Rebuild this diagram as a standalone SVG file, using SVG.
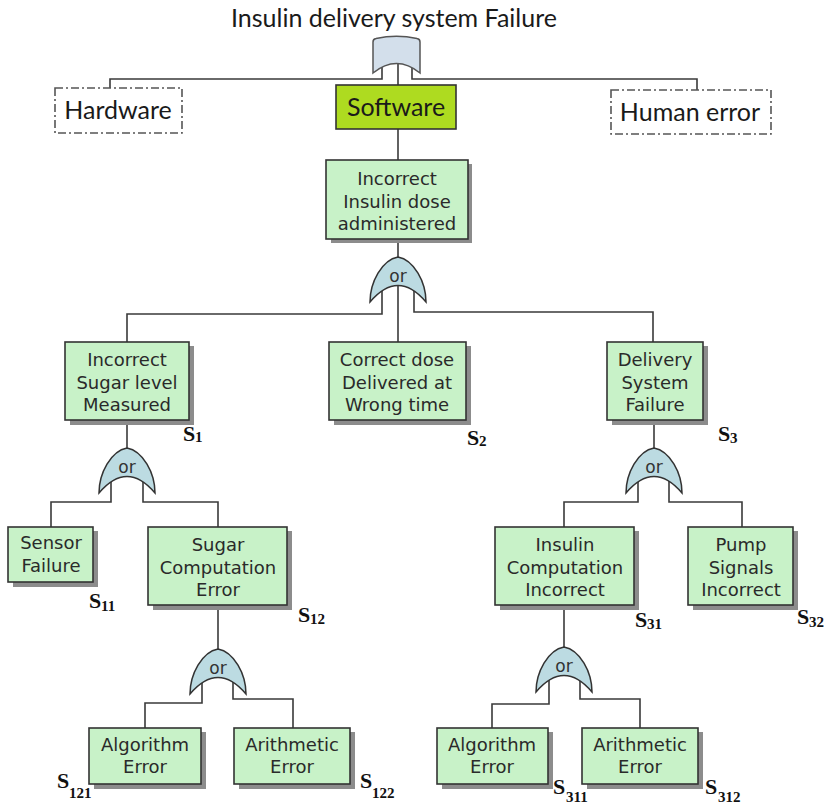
<svg xmlns="http://www.w3.org/2000/svg" width="827" height="809" viewBox="0 0 827 809">
<style>
.bg{fill:#ffffff}
.conn{fill:none;stroke:#3a3a3a;stroke-width:1.6}
.box{fill:#c8f2c8;stroke:#333333;stroke-width:1.6}
.shadow{fill:#8c8c8c}
.gate{fill:#bcdbe2;stroke:#333333;stroke-width:1.5}
.topgate{fill:#d3dfeb;stroke:#555555;stroke-width:1.5}
.dash{fill:#ffffff;stroke:#555555;stroke-width:1.6;stroke-dasharray:8 3 2 3}
.soft{fill:#aedb20;stroke:#333333;stroke-width:1.6}
.t{font-family:"DejaVu Sans",Verdana,sans-serif;font-size:18px;fill:#2a2a2a;text-anchor:middle}
.top{font-family:Lato,"Liberation Sans",sans-serif;font-size:25px;fill:#1a1a1a;text-anchor:middle}
.or{font-family:"DejaVu Sans",Verdana,sans-serif;font-size:17px;fill:#333333;text-anchor:middle}
.s{font-family:"Liberation Serif","Times New Roman",serif;font-weight:bold;font-size:22px;fill:#111111}
.sub{font-family:"Liberation Serif","Times New Roman",serif;font-weight:bold;font-size:15px;fill:#111111}
</style>
<defs>
<path id="orgate" d="M-28,45 C-28,25 -16,3 0,0 C16,3 28,25 28,45 Q0,12 -28,45 Z"/>
</defs>
<rect class="bg" x="0" y="0" width="827" height="809"/>

<text class="top" x="394" y="27">Insulin delivery system Failure</text>

<g id="connectors">
<path class="conn" d="M382,66 V79 H110 V88"/>
<path class="conn" d="M412,66 V79 H697 V90"/>
<path class="conn" d="M398,62 V85"/>
<path class="conn" d="M398,129 V160"/>
<path class="conn" d="M398,239 V258"/>
<path class="conn" d="M398,285 V342"/>
<path class="conn" d="M382,290 V314 H127 V342"/>
<path class="conn" d="M414,290 V312 H653 V342"/>
<path class="conn" d="M127,420 V449"/>
<path class="conn" d="M111,480 V502 H51 V527"/>
<path class="conn" d="M143,480 V502 H218 V527"/>
<path class="conn" d="M654,420 V449"/>
<path class="conn" d="M638,480 V502 H564 V527"/>
<path class="conn" d="M669,480 V502 H742 V527"/>
<path class="conn" d="M218,605 V651"/>
<path class="conn" d="M202,680 V703 H145 V728"/>
<path class="conn" d="M233,680 V699 H293 V728"/>
<path class="conn" d="M564,605 V649"/>
<path class="conn" d="M549,678 V704 H492 V728"/>
<path class="conn" d="M580,678 V699 H640 V728"/>
</g>

<g id="gate-top">
<path class="topgate" d="M373,73 L373,42 Q373,39 376,38.5 Q396.5,34 417,38.5 Q420,39 420,42 L420,73 Q396.5,54 373,73 Z"/>
</g>

<g id="hardware">
<rect class="dash" x="55" y="88" width="127" height="45"/>
<text class="top" x="118" y="119">Hardware</text>
</g>
<g id="software">
<rect class="soft" x="336" y="85" width="120" height="44"/>
<text class="top" x="396" y="116">Software</text>
</g>
<g id="human-error">
<rect class="dash" x="611" y="90" width="160" height="44"/>
<text class="top" x="690" y="121">Human error</text>
</g>

<g id="incorrect-insulin-dose">
<rect class="shadow" x="331" y="164" width="141" height="79"/>
<rect class="box" x="326" y="160" width="142" height="79"/>
<text class="t" x="397" y="185">Incorrect</text>
<text class="t" x="397" y="208">Insulin dose</text>
<text class="t" x="397" y="230">administered</text>
</g>

<g id="gate-1"><use href="#orgate" class="gate" x="398" y="257"/><text class="or" x="398" y="282">or</text></g>

<g id="s1">
<rect class="shadow" x="70" y="346" width="124" height="79"/>
<rect class="box" x="65" y="342" width="124" height="78"/>
<text class="t" x="127" y="366">Incorrect</text>
<text class="t" x="127" y="389">Sugar level</text>
<text class="t" x="127" y="411">Measured</text>
<text class="s" x="183" y="441">S</text><text class="sub" x="195" y="442">1</text>
</g>

<g id="s2">
<rect class="shadow" x="334" y="346" width="137" height="79"/>
<rect class="box" x="329" y="342" width="137" height="78"/>
<text class="t" x="397" y="366">Correct dose</text>
<text class="t" x="397" y="389">Delivered at</text>
<text class="t" x="397" y="411">Wrong time</text>
<text class="s" x="467" y="445">S</text><text class="sub" x="479" y="446">2</text>
</g>

<g id="s3">
<rect class="shadow" x="612" y="346" width="96" height="79"/>
<rect class="box" x="607" y="342" width="96" height="78"/>
<text class="t" x="655" y="366">Delivery</text>
<text class="t" x="655" y="389">System</text>
<text class="t" x="655" y="411">Failure</text>
<text class="s" x="718" y="441">S</text><text class="sub" x="730" y="443">3</text>
</g>

<g id="gate-2"><use href="#orgate" class="gate" x="127" y="448"/><text class="or" x="127" y="473">or</text></g>
<g id="gate-3"><use href="#orgate" class="gate" x="654" y="448"/><text class="or" x="654" y="473">or</text></g>

<g id="s11">
<rect class="shadow" x="13" y="531" width="85" height="56"/>
<rect class="box" x="8" y="527" width="85" height="55"/>
<text class="t" x="51" y="549">Sensor</text>
<text class="t" x="51" y="572">Failure</text>
<text class="s" x="89" y="608">S</text><text class="sub" x="101" y="611">11</text>
</g>

<g id="s12">
<rect class="shadow" x="153" y="531" width="139" height="79"/>
<rect class="box" x="148" y="527" width="139" height="78"/>
<text class="t" x="218" y="551">Sugar</text>
<text class="t" x="218" y="574">Computation</text>
<text class="t" x="218" y="596">Error</text>
<text class="s" x="298" y="622">S</text><text class="sub" x="310" y="624">12</text>
</g>

<g id="s31">
<rect class="shadow" x="500" y="531" width="139" height="79"/>
<rect class="box" x="495" y="527" width="139" height="78"/>
<text class="t" x="565" y="551">Insulin</text>
<text class="t" x="565" y="574">Computation</text>
<text class="t" x="565" y="596">Incorrect</text>
<text class="s" x="635" y="627">S</text><text class="sub" x="647" y="629">31</text>
</g>

<g id="s32">
<rect class="shadow" x="693" y="531" width="105" height="79"/>
<rect class="box" x="688" y="527" width="105" height="78"/>
<text class="t" x="741" y="551">Pump</text>
<text class="t" x="741" y="574">Signals</text>
<text class="t" x="741" y="596">Incorrect</text>
<text class="s" x="797" y="624">S</text><text class="sub" x="809" y="627">32</text>
</g>

<g id="gate-4"><use href="#orgate" class="gate" x="218" y="649"/><text class="or" x="218" y="674">or</text></g>
<g id="gate-5"><use href="#orgate" class="gate" x="564" y="647"/><text class="or" x="564" y="672">or</text></g>

<g id="s121">
<rect class="shadow" x="94" y="732" width="112" height="57"/>
<rect class="box" x="89" y="728" width="112" height="56"/>
<text class="t" x="145" y="751">Algorithm</text>
<text class="t" x="145" y="773">Error</text>
<text class="s" x="57" y="788">S</text><text class="sub" x="69" y="798">121</text>
</g>

<g id="s122">
<rect class="shadow" x="239" y="732" width="116" height="57"/>
<rect class="box" x="234" y="728" width="116" height="56"/>
<text class="t" x="292" y="751">Arithmetic</text>
<text class="t" x="292" y="773">Error</text>
<text class="s" x="360" y="788">S</text><text class="sub" x="372" y="798">122</text>
</g>

<g id="s311">
<rect class="shadow" x="442" y="732" width="111" height="57"/>
<rect class="box" x="437" y="728" width="111" height="56"/>
<text class="t" x="492" y="751">Algorithm</text>
<text class="t" x="492" y="773">Error</text>
<text class="s" x="553" y="794">S</text><text class="sub" x="566" y="802">311</text>
</g>

<g id="s312">
<rect class="shadow" x="587" y="732" width="116" height="57"/>
<rect class="box" x="582" y="728" width="116" height="56"/>
<text class="t" x="640" y="751">Arithmetic</text>
<text class="t" x="640" y="773">Error</text>
<text class="s" x="705" y="794">S</text><text class="sub" x="718" y="802">312</text>
</g>
</svg>
